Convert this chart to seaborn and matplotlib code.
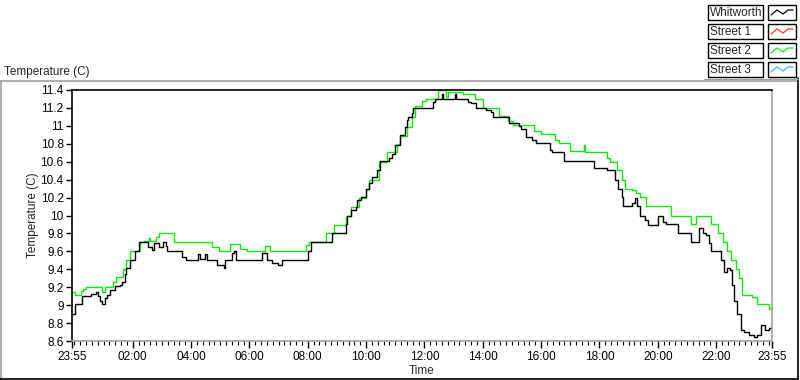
import matplotlib
matplotlib.use("Agg")
import matplotlib.pyplot as plt
import seaborn as sns
import pandas as pd
from matplotlib.lines import Line2D
from matplotlib.patches import Rectangle
from matplotlib.ticker import FixedLocator, NullFormatter

sns.set_style("white")
plt.rcParams['font.family'] = ['Liberation Sans', 'DejaVu Sans']
plt.rcParams['xtick.bottom'] = True
plt.rcParams['ytick.left'] = True

# ---- data (hours since 00:00; -0.083 = 23:55 previous day) ----
whit_t = [-0.083, 0.02, 0.27, 0.58, 0.73, 0.80, 0.88, 0.96, 1.04, 1.12, 1.21, 1.38, 1.55,
          1.64, 1.72, 1.77, 1.89, 2.06, 2.23, 2.51, 2.65, 2.74, 2.91, 3.02, 3.13, 3.19,
          3.70, 3.81, 4.24, 4.32, 4.49, 4.55, 4.89, 5.12, 5.17, 5.40, 5.46, 5.54, 6.44,
          6.50, 6.59, 6.76, 6.99, 7.12, 8.02, 8.11, 8.84, 9.30, 9.35, 9.47, 9.64, 9.69,
          9.81, 9.98, 10.09, 10.20, 10.37, 10.49, 10.77, 10.88, 11.00, 11.17, 11.34,
          11.39, 11.45, 11.56, 11.62, 12.30, 12.36, 12.60, 12.63, 13.05, 13.08, 13.49,
          13.60, 13.77, 14.11, 14.28, 14.34, 14.79, 14.91, 15.25, 15.30, 15.47, 15.70,
          15.81, 16.32, 16.38, 16.78, 17.80, 18.25, 18.53, 18.65, 18.76, 18.82, 19.04,
          19.10, 19.21, 19.29, 19.38, 19.55, 19.67, 19.84, 20.01, 20.12, 20.18, 20.29,
          20.69, 21.14, 21.31, 21.42, 21.54, 21.65, 21.76, 21.82, 22.16, 22.27, 22.39,
          22.46, 22.53, 22.61, 22.73, 22.84, 22.95, 23.12, 23.29, 23.41, 23.55, 23.67,
          23.80, 23.917]
whit_v = [8.90, 9.01, 9.10, 9.12, 9.15, 9.10, 9.05, 9.01, 9.08, 9.11, 9.17, 9.21, 9.22,
          9.26, 9.35, 9.41, 9.50, 9.60, 9.70, 9.65, 9.61, 9.69, 9.65, 9.70, 9.66, 9.60,
          9.54, 9.50, 9.57, 9.52, 9.57, 9.50, 9.45, 9.41, 9.50, 9.58, 9.60, 9.50, 9.58,
          9.58, 9.50, 9.47, 9.45, 9.50, 9.60, 9.70, 9.80, 9.91, 9.99, 10.06, 10.10, 10.17,
          10.21, 10.30, 10.36, 10.43, 10.51, 10.61, 10.64, 10.69, 10.79, 10.90, 10.99,
          11.07, 11.10, 11.14, 11.20, 11.27, 11.30, 11.36, 11.30, 11.36, 11.30, 11.27,
          11.25, 11.20, 11.18, 11.15, 11.10, 11.10, 11.03, 11.00, 10.96, 10.88, 10.84,
          10.81, 10.73, 10.71, 10.61, 10.53, 10.51, 10.40, 10.30, 10.21, 10.11, 10.11,
          10.14, 10.19, 10.11, 10.00, 9.95, 9.89, 9.89, 9.99, 10.00, 9.93, 9.90,
          9.80, 9.70, 9.70, 9.86, 9.80, 9.78, 9.69, 9.60, 9.50, 9.37, 9.41,
          9.39, 9.22, 9.05, 8.90, 8.72, 8.70, 8.67, 8.65, 8.67, 8.78, 8.72,
          8.74, 8.72]

st2_t = [-0.083, 0.02, 0.21, 0.28, 0.41, 0.96, 1.04, 1.32, 1.43, 1.66, 1.77, 1.89, 2.26,
         2.40, 2.54, 2.60, 2.79, 2.91, 3.42, 4.72, 4.95, 5.34, 5.68, 5.91, 6.53, 6.70,
         7.95, 8.05, 8.62, 8.90, 9.30, 9.47, 9.75, 9.98, 10.09, 10.43, 10.71, 11.05,
         11.17, 11.39, 11.56, 11.68, 11.90, 12.07, 12.47, 12.75, 12.81, 13.32, 13.72,
         14.00, 14.57, 14.85, 15.02, 15.76, 15.98, 16.49, 16.61, 17.00, 17.46, 17.51,
         18.25, 18.36, 18.59, 18.76, 18.87, 19.10, 19.27, 19.38, 19.61, 20.46, 21.14,
         21.31, 21.82, 22.05, 22.22, 22.39, 22.50, 22.67, 22.78, 22.90, 23.24, 23.41,
         23.80, 23.917]
st2_v = [9.15, 9.11, 9.16, 9.18, 9.20, 9.15, 9.20, 9.26, 9.31, 9.40, 9.50, 9.60, 9.70,
         9.71, 9.75, 9.71, 9.76, 9.80, 9.70, 9.65, 9.60, 9.68, 9.63, 9.60, 9.66, 9.60,
         9.67, 9.70, 9.80, 9.89, 10.00, 10.10, 10.20, 10.30, 10.40, 10.60, 10.71, 10.80,
         10.89, 10.99, 11.10, 11.22, 11.28, 11.30, 11.40, 11.32, 11.38, 11.35, 11.30,
         11.20, 11.11, 11.05, 11.01, 10.94, 10.91, 10.84, 10.81, 10.72, 10.79, 10.71,
         10.64, 10.60, 10.51, 10.40, 10.30, 10.28, 10.25, 10.21, 10.11, 10.00, 9.91,
         10.00, 9.91, 9.80, 9.70, 9.60, 9.50, 9.40, 9.30, 9.11, 9.09, 9.01,
         8.96, 8.98]

st1_t, st1_v = [], []
st3_t, st3_v = [], []

series_names = ["Whitworth", "Street 1", "Street 2", "Street 3"]
series_colors = ["#000000", "#ff3030", "#10e810", "#30b8ff"]

y_ticks = [8.6, 8.8, 9.0, 9.2, 9.4, 9.6, 9.8, 10.0, 10.2, 10.4, 10.6, 10.8, 11.0, 11.2, 11.4]
y_tick_labels = ["8.6", "8.8", "9", "9.2", "9.4", "9.6", "9.8", "10", "10.2", "10.4",
                 "10.6", "10.8", "11", "11.2", "11.4"]
x_ticks = [-1/12, 2, 4, 6, 8, 10, 12, 14, 16, 18, 20, 22, 23 + 11/12]
x_tick_labels = ["23:55", "02:00", "04:00", "06:00", "08:00", "10:00", "12:00", "14:00",
                 "16:00", "18:00", "20:00", "22:00", "23:55"]

# ---- figure ----
W, H = 800, 380
fig = plt.figure(figsize=(8, 3.8), dpi=100)
fig.patch.set_facecolor("white")

def fx(px):
    return px / W

def fy(py):
    return 1 - py / H

ax = fig.add_axes([fx(72), fy(341), fx(772) - fx(72), fy(90) - fy(341)])
ax.set_facecolor("white")

df_w = pd.DataFrame({"t": whit_t, "v": whit_v})
df_2 = pd.DataFrame({"t": st2_t, "v": st2_v})
sns.lineplot(data=df_2, x="t", y="v", ax=ax, color=series_colors[2], lw=1.0,
             drawstyle="steps-post", estimator=None, sort=False)
sns.lineplot(data=df_w, x="t", y="v", ax=ax, color=series_colors[0], lw=1.0,
             drawstyle="steps-post", estimator=None, sort=False)

ax.set_xlim(-1/12, 23 + 11/12)
ax.set_ylim(8.6, 11.4)
ax.set_yticks(y_ticks)
ax.set_yticklabels(y_tick_labels)
ax.set_xticks(x_ticks)
ax.set_xticklabels(x_tick_labels)
ax.xaxis.set_minor_locator(FixedLocator([i * 0.2 for i in range(0, 120)]))
ax.xaxis.set_minor_formatter(NullFormatter())
ax.tick_params(axis="both", which="major", direction="out", length=4, width=1,
               color="black", labelsize=8.5, pad=2, labelcolor="black")
ax.tick_params(axis="x", which="minor", direction="out", length=3, width=0.8,
               color="black", bottom=True)
ax.tick_params(axis="x", which="major", length=5, bottom=True)
ax.tick_params(axis="y", which="major", left=True)

for side in ["top", "left"]:
    ax.spines[side].set_color("black")
    ax.spines[side].set_linewidth(1.2)
for side in ["bottom", "right"]:
    ax.spines[side].set_color("#a0a0a0")
    ax.spines[side].set_linewidth(1.2)
for s in ax.spines.values():
    s.set_visible(True)

ax.set_xlabel("Time", fontsize=8.5, labelpad=2)
ax.set_ylabel("Temperature (C)", fontsize=8.5, labelpad=1)

# panel frame
fig.add_artist(Line2D([fx(0), fx(797)], [fy(81), fy(81)], color="#a0a0a0", lw=1.2,
                      transform=fig.transFigure))
fig.add_artist(Line2D([fx(1), fx(1)], [fy(81), fy(379)], color="#a0a0a0", lw=1.2,
                      transform=fig.transFigure))
fig.add_artist(Line2D([fx(0), fx(798)], [fy(379), fy(379)], color="black", lw=1.2,
                      transform=fig.transFigure))
fig.add_artist(Line2D([fx(797.5), fx(797.5)], [fy(78), fy(379)], color="black", lw=1.2,
                      transform=fig.transFigure))

fig.text(fx(4), fy(72), "Temperature (C)", fontsize=8.5, ha="left", va="center")

# legend (boxed labels with sample lines)
row_tops = [5, 24, 43, 62]
for name, col, top in zip(series_names, series_colors, row_tops):
    hgt = 15
    fig.add_artist(Rectangle((fx(708), fy(top + hgt)), fx(763) - fx(708), fy(top) - fy(top + hgt),
                             transform=fig.transFigure, fill=False, ec="black", lw=1.0))
    fig.add_artist(Rectangle((fx(768), fy(top + hgt)), fx(796) - fx(768), fy(top) - fy(top + hgt),
                             transform=fig.transFigure, fill=False, ec="black", lw=1.0))
    fig.text(fx(710), fy(top + hgt / 2 + 0.5), name, fontsize=8.5, ha="left", va="center")
    zx = [771, 777, 783, 788, 793]
    zy = [top + 10, top + 5, top + 9, top + 5, top + 5]
    fig.add_artist(Line2D([fx(v) for v in zx], [fy(v) for v in zy], color=col, lw=0.9,
                          transform=fig.transFigure))
fig.add_artist(Line2D([fx(704), fx(798)], [fy(79), fy(79)], color="#a0a0a0", lw=1.0,
                      transform=fig.transFigure))

fig.savefig("out.png", dpi=100, facecolor="white")
